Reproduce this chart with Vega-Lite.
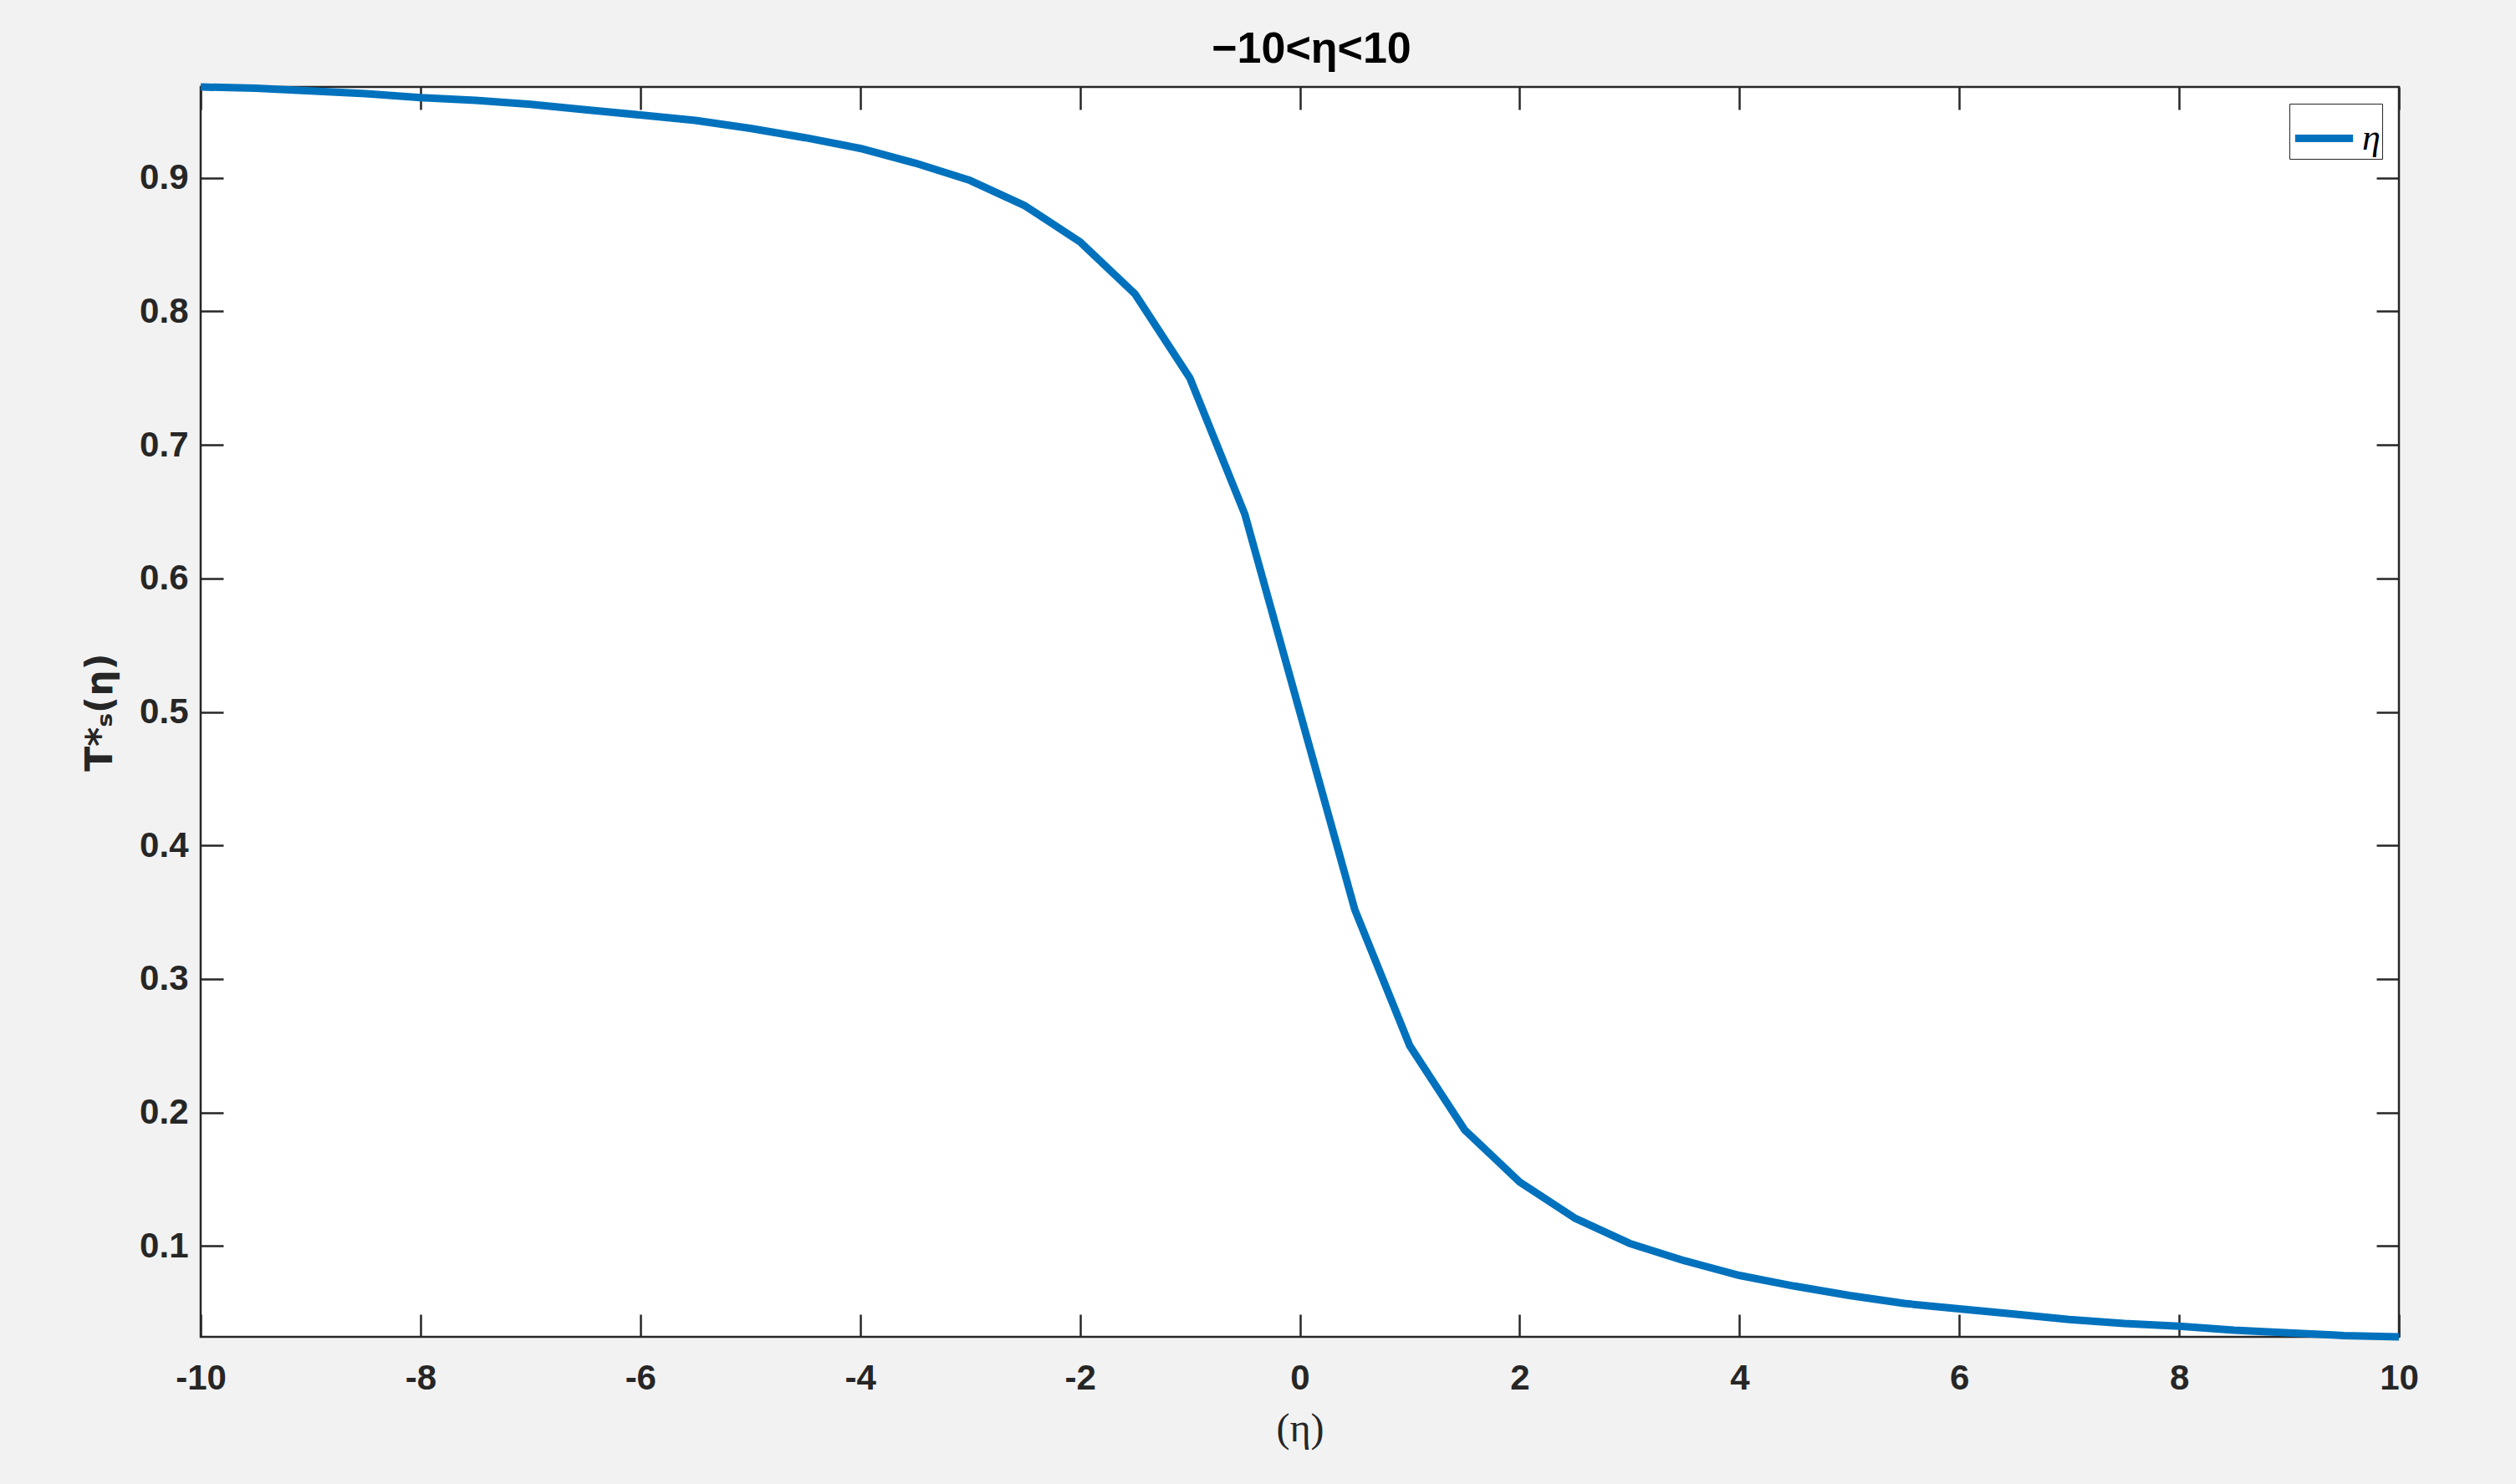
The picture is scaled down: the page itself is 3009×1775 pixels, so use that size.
{
  "$schema": "https://vega.github.io/schema/vega-lite/v6.json",
  "width": 2629,
  "height": 1495,
  "autosize": {"type": "none"},
  "padding": {"left": 240, "top": 104, "right": 140, "bottom": 176},
  "background": "#f2f2f2",
  "title": {
    "text": "−10<η<10",
    "font": "Liberation Sans",
    "fontWeight": "bold",
    "fontSize": 52,
    "color": "#000000",
    "anchor": "middle",
    "offset": 14,
    "dx": 14
  },
  "config": {
    "view": {"fill": "white", "stroke": "#262626", "strokeWidth": 2.5},
    "axis": {
      "labelFont": "Liberation Sans",
      "labelFontWeight": "bold",
      "labelFontSize": 42,
      "labelColor": "#262626",
      "labelFlush": false,
      "labelOverlap": false,
      "domain": false,
      "tickColor": "#262626",
      "tickWidth": 2.5,
      "gridColor": "#dcdcdc",
      "gridWidth": 2
    }
  },
  "data": {
    "values": [
      {"eta": -10, "T": 0.968, "series": "η"},
      {"eta": -9.5, "T": 0.967, "series": "η"},
      {"eta": -9, "T": 0.965, "series": "η"},
      {"eta": -8.5, "T": 0.963, "series": "η"},
      {"eta": -8, "T": 0.960, "series": "η"},
      {"eta": -7.5, "T": 0.958, "series": "η"},
      {"eta": -7, "T": 0.955, "series": "η"},
      {"eta": -6.5, "T": 0.951, "series": "η"},
      {"eta": -6, "T": 0.947, "series": "η"},
      {"eta": -5.5, "T": 0.943, "series": "η"},
      {"eta": -5, "T": 0.937, "series": "η"},
      {"eta": -4.5, "T": 0.930, "series": "η"},
      {"eta": -4, "T": 0.922, "series": "η"},
      {"eta": -3.5, "T": 0.911, "series": "η"},
      {"eta": -3, "T": 0.898, "series": "η"},
      {"eta": -2.5, "T": 0.879, "series": "η"},
      {"eta": -2, "T": 0.852, "series": "η"},
      {"eta": -1.5, "T": 0.813, "series": "η"},
      {"eta": -1, "T": 0.750, "series": "η"},
      {"eta": -0.5, "T": 0.648, "series": "η"},
      {"eta": 0, "T": 0.500, "series": "η"},
      {"eta": 0.5, "T": 0.352, "series": "η"},
      {"eta": 1, "T": 0.250, "series": "η"},
      {"eta": 1.5, "T": 0.187, "series": "η"},
      {"eta": 2, "T": 0.148, "series": "η"},
      {"eta": 2.5, "T": 0.121, "series": "η"},
      {"eta": 3, "T": 0.102, "series": "η"},
      {"eta": 3.5, "T": 0.089, "series": "η"},
      {"eta": 4, "T": 0.078, "series": "η"},
      {"eta": 4.5, "T": 0.070, "series": "η"},
      {"eta": 5, "T": 0.063, "series": "η"},
      {"eta": 5.5, "T": 0.057, "series": "η"},
      {"eta": 6, "T": 0.053, "series": "η"},
      {"eta": 6.5, "T": 0.049, "series": "η"},
      {"eta": 7, "T": 0.045, "series": "η"},
      {"eta": 7.5, "T": 0.042, "series": "η"},
      {"eta": 8, "T": 0.040, "series": "η"},
      {"eta": 8.5, "T": 0.037, "series": "η"},
      {"eta": 9, "T": 0.035, "series": "η"},
      {"eta": 9.5, "T": 0.033, "series": "η"},
      {"eta": 10, "T": 0.032, "series": "η"}
    ]
  },
  "layer": [
    {
      "mark": {"type": "line", "strokeWidth": 0, "strokeOpacity": 0},
      "encoding": {
        "x": {"field": "eta", "type": "quantitative", "scale": {"domain": [-10, 10], "nice": false, "zero": false},
              "axis": {"orient": "top", "values": [-10,-8,-6,-4,-2,0,2,4,6,8,10], "labels": false, "grid": false, "tickSize": -27, "title": null}},
        "y": {"field": "T", "type": "quantitative", "scale": {"domain": [0.032, 0.968], "nice": false, "zero": false},
              "axis": {"orient": "right", "values": [0.1,0.2,0.3,0.4,0.5,0.6,0.7,0.8,0.9], "labels": false, "grid": false, "tickSize": -27, "title": null}}
      }
    },
    {
      "mark": {"type": "line", "strokeWidth": 9, "strokeJoin": "round"},
      "encoding": {
        "x": {"field": "eta", "type": "quantitative", "scale": {"domain": [-10, 10], "nice": false, "zero": false},
              "axis": {"orient": "bottom", "values": [-10,-8,-6,-4,-2,0,2,4,6,8,10], "tickSize": -27, "labelPadding": 56,
                       "labelExpr": "datum.value < 0 ? '-' + abs(datum.value) : '' + datum.value",
                       "title": "(η)", "titleFont": "Liberation Serif", "titleFontWeight": "normal", "titleFontSize": 48, "titleColor": "#262626", "titlePadding": 16}},
        "y": {"field": "T", "type": "quantitative", "scale": {"domain": [0.032, 0.968], "nice": false, "zero": false},
              "axis": {"orient": "left", "values": [0.1,0.2,0.3,0.4,0.5,0.6,0.7,0.8,0.9], "tickSize": -27, "labelPadding": 42,
                       "title": "T*ₛ(η)", "titleFont": "DejaVu Sans", "titleFontWeight": "bold", "titleFontSize": 44, "titleColor": "#262626", "titlePadding": 24}},
        "color": {"field": "series", "type": "nominal", "scale": {"range": ["#0072BD"]},
                  "legend": {"title": null, "orient": "top-right", "offset": 20, "symbolType": "stroke", "symbolSize": 4800, "symbolStrokeWidth": 9,
                             "labelFont": "Liberation Serif", "labelFontStyle": "italic", "labelFontSize": 44, "labelColor": "#000000",
                             "strokeColor": "#262626", "fillColor": "white", "padding": 2, "labelOffset": 6}}
      }
    }
  ],
  "resolve": {"axis": {"x": "independent", "y": "independent"}}
}
